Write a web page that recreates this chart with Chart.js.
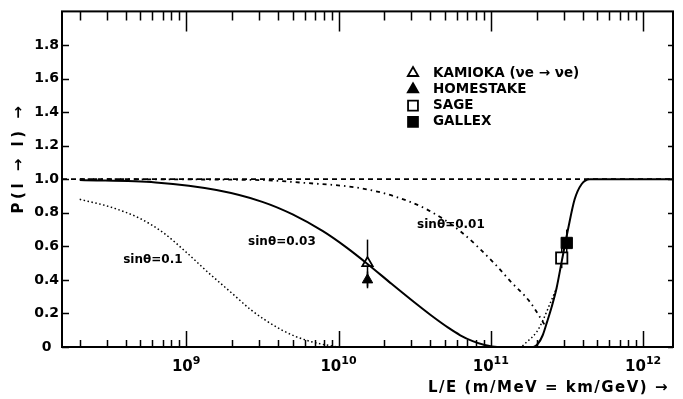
<!DOCTYPE html>
<html>
<head>
<meta charset="utf-8">
<script src="https://cdn.jsdelivr.net/npm/chart.js@4.4.0/dist/chart.umd.min.js"></script>
<style>
  html, body { margin: 0; padding: 0; background: #fff; }
  #wrap { width: 683px; height: 399px; }
</style>
</head>
<body>
<div id="wrap"><canvas id="chart"></canvas></div>
<script>
// axis ranges
const xMin = 1.53e8, xMax = 1.57e12;
const yMin = 0, yMax = 2.0;

const xTickValues = [1e9, 1e10, 1e11, 1e12];
const xTickBase = ['10', '10', '10', '10'];
const xTickExp = ['9', '10', '11', '12'];
const yTickValues = [0, 0.2, 0.4, 0.6, 0.8, 1.0, 1.2, 1.4, 1.6, 1.8];

// no-oscillation reference line
const refX = [xMin, xMax];
const refY = [1.0, 1.0];

// sin theta = 0.03 (solid)
const s003X = [2.0e8, 6.3e8, 1.58e9, 3.16e9, 5.0e9, 7.9e9, 1.12e10, 1.55e10, 2.24e10, 3.16e10, 4.17e10, 5.25e10, 6.3e10, 7.6e10, 9.1e10, 1.1e11, 1.9e11, 2.04e11, 2.19e11, 2.34e11, 2.51e11, 2.7e11, 2.92e11, 3.21e11, 3.55e11, 3.94e11, 4.47e11, 1.57e12];
const s003Y = [0.995, 0.98, 0.935, 0.865, 0.79, 0.69, 0.595, 0.495, 0.375, 0.265, 0.18, 0.115, 0.07, 0.035, 0.012, 0.0, 0.0, 0.02, 0.07, 0.15, 0.24, 0.35, 0.51, 0.70, 0.88, 0.97, 1.0, 1.0];

// sin theta = 0.1 (dotted)
const s01X = [2.0e8, 3.16e8, 5.0e8, 7.1e8, 1.0e9, 1.41e9, 2.0e9, 2.63e9, 3.31e9, 4.17e9, 5.25e9, 6.6e9, 8.3e9, 1.05e10, 1.55e11, 1.72e11, 2.0e11, 2.2e11, 2.45e11, 2.7e11];
const s01Y = [0.88, 0.835, 0.765, 0.68, 0.565, 0.44, 0.32, 0.225, 0.16, 0.105, 0.062, 0.032, 0.012, 0.0, 0.0, 0.03, 0.09, 0.16, 0.26, 0.35];

// sin theta = 0.01 (dash-dot)
const s001X = [2.0e8, 3.06e9, 5.6e9, 1.38e10, 2.29e10, 3.8e10, 6.3e10, 1.05e11, 1.35e11, 1.8e11, 2.3e11];
const s001Y = [1.0, 0.995, 0.98, 0.947, 0.90, 0.82, 0.69, 0.50, 0.39, 0.27, 0.12];

// experiments
const kamX = [1.55e10], kamY = [0.50], kamErr = [0.14];
const homX = [1.55e10], homY = [0.40], homErr = [0.05];
const sageX = [2.92e11], sageY = [0.53], sageErr = [0.06];
const galX = [3.15e11], galY = [0.62], galErr = [0.08];

const curveLabels = ['sinθ=0.1', 'sinθ=0.03', 'sinθ=0.01'];
const legendLabels = ['KAMIOKA (νe → νe)', 'HOMESTAKE', 'SAGE', 'GALLEX'];
const xTitle = 'L/E (m/MeV = km/GeV) →';
const yTitle = 'P(l → l) →';

const FONT = '"DejaVu Sans", sans-serif';
const pts = (xs, ys) => xs.map((x, i) => ({ x, y: ys[i] }));

function marker(ctx, style, filled, r, x, y) {
  ctx.beginPath();
  if (style === 'triangle') {
    ctx.moveTo(x, y - r);
    ctx.lineTo(x + r * 0.866, y + r * 0.5);
    ctx.lineTo(x - r * 0.866, y + r * 0.5);
    ctx.closePath();
  } else {
    const s = r * Math.SQRT1_2;
    ctx.rect(x - s, y - s, 2 * s, 2 * s);
  }
  ctx.fillStyle = filled ? '#000' : '#fff';
  ctx.fill();
  ctx.lineWidth = 1.8;
  ctx.strokeStyle = '#000';
  ctx.stroke();
}

const decor = {
  id: 'decor',
  beforeDatasetsDraw(chart) {
    // error bars under the markers
    const { ctx, scales: { x, y } } = chart;
    ctx.save();
    ctx.strokeStyle = '#000';
    ctx.lineWidth = 1.5;
    chart.data.datasets.forEach(ds => {
      if (!ds.err) return;
      ds.data.forEach((p, i) => {
        const px = x.getPixelForValue(p.x);
        ctx.beginPath();
        ctx.moveTo(px, y.getPixelForValue(p.y - ds.err[i]));
        ctx.lineTo(px, y.getPixelForValue(p.y + ds.err[i]));
        ctx.stroke();
      });
    });
    ctx.restore();
  },
  afterDraw(chart, args, opts) {
    const { ctx, chartArea: a, scales: { x, y } } = chart;
    ctx.save();
    ctx.strokeStyle = '#000';
    ctx.fillStyle = '#000';

    // frame
    ctx.lineWidth = 2;
    ctx.strokeRect(a.left, a.top, a.right - a.left, a.bottom - a.top);

    // inward ticks, x (log)
    ctx.lineWidth = 1.5;
    for (let d = 8; d <= 12; d++) {
      for (let k = 1; k <= 9; k++) {
        const v = k * Math.pow(10, d);
        if (v < x.min || v > x.max) continue;
        const px = Math.round(x.getPixelForValue(v)) + 0.5;
        const major = k === 1;
        ctx.beginPath();
        ctx.moveTo(px, a.bottom);
        ctx.lineTo(px, a.bottom - (major ? 16 : 7));
        ctx.moveTo(px, a.top);
        ctx.lineTo(px, a.top + (major ? 20 : 9));
        ctx.stroke();
      }
    }
    // inward ticks, y
    yTickValues.forEach(v => {
      const py = Math.round(y.getPixelForValue(v)) + 0.5;
      ctx.beginPath();
      ctx.moveTo(a.left, py);
      ctx.lineTo(a.left + 7, py);
      ctx.moveTo(a.right, py);
      ctx.lineTo(a.right - 5, py);
      ctx.stroke();
    });

    // x tick labels: 10 with raised exponent
    ctx.textAlign = 'left';
    ctx.textBaseline = 'alphabetic';
    xTickValues.forEach((v, i) => {
      ctx.font = 'bold 15px ' + FONT;
      const wb = ctx.measureText(xTickBase[i]).width;
      ctx.font = 'bold 11px ' + FONT;
      const we = ctx.measureText(xTickExp[i]).width;
      const x0 = x.getPixelForValue(v) - (wb + we) / 2;
      ctx.font = 'bold 15px ' + FONT;
      ctx.fillText(xTickBase[i], x0, a.bottom + 24);
      ctx.font = 'bold 11px ' + FONT;
      ctx.fillText(xTickExp[i], x0 + wb, a.bottom + 17);
    });

    // x title
    ctx.font = 'bold 15px ' + FONT;
    ctx.letterSpacing = '1.5px';
    ctx.textAlign = 'right';
    ctx.textBaseline = 'middle';
    ctx.fillText(xTitle, a.right - 4, a.bottom + 41);

    // curve labels
    ctx.letterSpacing = '0px';
    ctx.font = 'bold 12px ' + FONT;
    ctx.textAlign = 'left';
    curveLabels.forEach((t, i) => {
      ctx.fillText(t, x.getPixelForValue(opts.labelAt[i][0]), y.getPixelForValue(opts.labelAt[i][1]));
    });

    // legend
    const styles = [['triangle', false, 6], ['triangle', true, 6], ['rect', false, 7], ['rect', true, 7]];
    legendLabels.forEach((t, i) => {
      const ly = opts.legendTop + i * opts.legendStep;
      marker(ctx, styles[i][0], styles[i][1], styles[i][2], opts.legendX, ly);
      ctx.fillStyle = '#000';
      ctx.font = 'bold 13.5px ' + FONT;
      ctx.textAlign = 'left';
      ctx.textBaseline = 'middle';
      ctx.fillText(t, opts.legendX + 20, ly);
    });

    // y title
    ctx.translate(19, 158);
    ctx.rotate(-Math.PI / 2);
    ctx.font = 'bold 15px ' + FONT;
    ctx.letterSpacing = '3.5px';
    ctx.textAlign = 'center';
    ctx.textBaseline = 'middle';
    ctx.fillText(yTitle, 0, 0);
    ctx.restore();
  }
};

const ctx = document.getElementById('chart').getContext('2d');
new Chart(ctx, {
  type: 'line',
  data: {
    datasets: [
      { data: pts(refX, refY), borderColor: '#000', borderWidth: 1.8, borderDash: [5, 4], pointRadius: 0 },
      { data: pts(s001X, s001Y), borderColor: '#000', borderWidth: 1.8, borderDash: [4, 4, 1.5, 4], pointRadius: 0, cubicInterpolationMode: 'monotone' },
      { data: pts(s01X, s01Y), borderColor: '#000', borderWidth: 1.5, borderDash: [1.5, 2.5], pointRadius: 0, cubicInterpolationMode: 'monotone' },
      { data: pts(s003X, s003Y), borderColor: '#000', borderWidth: 2, pointRadius: 0, cubicInterpolationMode: 'monotone' },
      { data: pts(kamX, kamY), err: kamErr, showLine: false, pointStyle: 'triangle', pointRadius: 6, pointBackgroundColor: '#fff', pointBorderColor: '#000', pointBorderWidth: 1.8 },
      { data: pts(homX, homY), err: homErr, showLine: false, pointStyle: 'triangle', pointRadius: 6, pointBackgroundColor: '#000', pointBorderColor: '#000', pointBorderWidth: 1 },
      { data: pts(sageX, sageY), err: sageErr, showLine: false, pointStyle: 'rect', pointRadius: 8, pointBackgroundColor: '#fff', pointBorderColor: '#000', pointBorderWidth: 1.8 },
      { data: pts(galX, galY), err: galErr, showLine: false, pointStyle: 'rect', pointRadius: 8, pointBackgroundColor: '#000', pointBorderColor: '#000', pointBorderWidth: 1 }
    ]
  },
  options: {
    responsive: true,
    maintainAspectRatio: false,
    animation: false,
    devicePixelRatio: 1,
    layout: { padding: { top: 5, right: 10, left: 0, bottom: 0 } },
    plugins: {
      legend: { display: false },
      tooltip: { enabled: false },
      decor: {
        labelAt: [[3.86e8, 0.52], [2.55e9, 0.626], [3.28e10, 0.725]],
        legendX: 413, legendTop: 73, legendStep: 16.3
      }
    },
    scales: {
      x: {
        type: 'logarithmic',
        min: xMin,
        max: xMax,
        afterBuildTicks: s => { s.ticks = xTickValues.map(v => ({ value: v })); },
        afterFit: s => { s.height = 52; },
        grid: { display: false, drawTicks: false },
        border: { display: false },
        ticks: { display: false }
      },
      y: {
        min: yMin,
        max: yMax,
        afterBuildTicks: s => { s.ticks = yTickValues.map(v => ({ value: v })); },
        afterFit: s => { s.width = 62; },
        grid: { display: false, drawTicks: false },
        border: { display: false },
        ticks: {
          crossAlign: 'center', padding: 3, color: '#000',
          font: { family: FONT, size: 14, weight: 'bold' },
          callback: v => (v === 0 ? '0' : v.toFixed(1))
        }
      }
    }
  },
  plugins: [decor]
});
</script>
</body>
</html>
